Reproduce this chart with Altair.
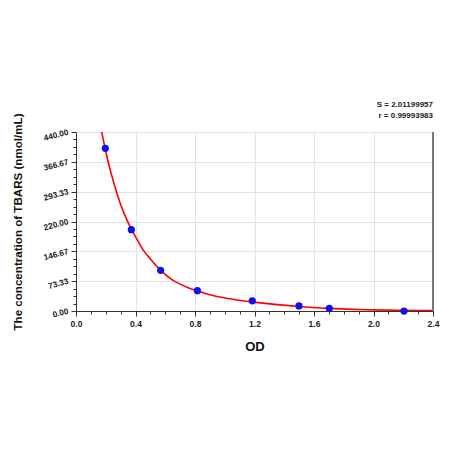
import altair as alt
import pandas as pd

# Standards (OD vs concentration)
od = [0.197, 0.372, 0.569, 0.816, 1.185, 1.499, 1.703, 2.205]
conc = [400, 200, 100, 50, 25, 12.5, 6.25, 0]

# Fitted curve
curve_x = [0.173, 0.20, 0.25, 0.30, 0.35, 0.40, 0.45, 0.50, 0.57, 0.65, 0.70,
           0.75, 0.82, 0.92, 1.03, 1.18, 1.37, 1.50, 1.70, 1.86, 2.00, 2.20, 2.40]
curve_y = [440, 392, 320, 262, 218, 183, 151, 128, 100, 76, 66,
           58, 49, 38, 30, 22.5, 15, 11, 6.5, 4, 2.8, 1.5, 0.8]

x_major = [0.0, 0.4, 0.8, 1.2, 1.6, 2.0, 2.4]
x_ticks = [round(0.1 * i, 1) for i in range(25)]
y_major = [0.0, 73.33, 146.67, 220.0, 293.33, 366.67, 440.0]
y_ticks = [0, 18.33, 36.67, 55, 73.33, 91.67, 110, 128.33, 146.67, 165, 183.33,
           201.67, 220, 238.33, 256.67, 275, 293.33, 311.67, 330, 348.33, 366.67,
           385, 403.33, 421.67, 440]

stats_lines = ["S = 2.01199957", "r = 0.99993983"]
x_title = "OD"
y_title = "The concentration of TBARS (nmol/mL)"

pts = pd.DataFrame({"od": od, "conc": conc})
crv = pd.DataFrame({"od": curve_x, "conc": curve_y})

x_test = "indexof([" + ",".join(str(v) for v in x_major) + "], round(datum.value*10)/10) >= 0"
y_test = "indexof([" + ",".join(str(v) for v in y_major) + "], round(datum.value*100)/100) >= 0"

FONT = "Liberation Sans"

x_scale = alt.Scale(domain=[0, 2.4], nice=False, zero=False)
y_scale = alt.Scale(domain=[0, 440], nice=False)

x_axis = alt.Axis(
    values=x_ticks,
    labelExpr=f"({x_test}) ? format(datum.value, '.1f') : ''",
    tickSize={"condition": {"test": x_test, "value": 5}, "value": 3},
    gridOpacity={"condition": {"test": x_test, "value": 1}, "value": 0},
    gridColor="#e3e3e3",
    tickColor="#333333",
    domainColor="#333333",
    labelFont=FONT, labelFontSize=8.5, labelFontWeight="bold", labelColor="#222222",
    labelPadding=3, labelOverlap=False, labelFlush=False,
    title=x_title, titleFont=FONT, titleFontSize=13, titleFontWeight="bold",
    titleColor="#111111", titleX=178.5, titleY=35, titleBaseline="middle",
    titleAlign="center",
)
y_axis = alt.Axis(
    values=y_ticks,
    labelExpr=f"({y_test}) ? format(datum.value, '.2f') : ''",
    tickSize={"condition": {"test": y_test, "value": 5}, "value": 3},
    gridOpacity={"condition": {"test": y_test, "value": 1}, "value": 0},
    gridColor="#e3e3e3",
    tickColor="#333333",
    domainColor="#333333",
    labelFont=FONT, labelFontSize=8.3, labelFontWeight="bold", labelColor="#222222",
    labelAngle=345, labelAlign="right", labelBaseline="middle",
    labelPadding=3, labelOverlap=False, labelFlush=False,
    title=y_title, titleFont=FONT, titleFontSize=11.6, titleFontWeight="bold",
    titleColor="#111111", titleX=-58, titleY=89.5, titleBaseline="middle",
    titleAlign="center", titleAngle=270,
)

base = alt.Chart(crv).mark_line(color="#ff0000", strokeWidth=1.6, interpolate="monotone", clip=True).encode(
    x=alt.X("od:Q", scale=x_scale, axis=x_axis),
    y=alt.Y("conc:Q", scale=y_scale, axis=y_axis),
)

points = alt.Chart(pts).mark_circle(color="#1010ee", size=52, opacity=1).encode(
    x=alt.X("od:Q", scale=x_scale, axis=x_axis),
    y=alt.Y("conc:Q", scale=y_scale, axis=y_axis),
)

right_border = alt.Chart(pd.DataFrame({"od": [2.4]})).mark_rule(color="#777777", strokeWidth=2).encode(
    x=alt.X("od:Q", scale=x_scale, axis=x_axis),
)

chart = alt.layer(base, points, right_border).properties(
    width=357,
    height=179,
    autosize=alt.AutoSizeParams(type="none"),
    padding={"left": 68, "top": 124, "right": 9, "bottom": 110},
    title=alt.TitleParams(
        text=stats_lines, anchor="end", align="right", font=FONT, fontSize=8,
        fontWeight="bold", color="#222222", lineHeight=11, offset=-7, frame="group",
    ),
).configure_view(stroke="#888888", strokeWidth=1).configure_axis(
    labelOverlap=False
).configure(background="white")

chart.save("out.html", embed_options={"renderer": "svg", "actions": False})
